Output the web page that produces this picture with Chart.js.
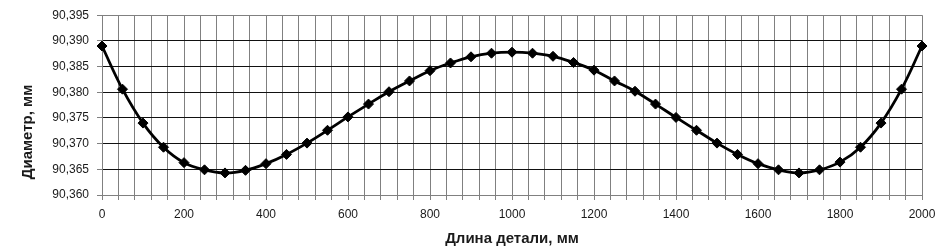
<!DOCTYPE html>
<html>
<head>
<meta charset="utf-8">
<script src="https://cdn.jsdelivr.net/npm/chart.js@4/dist/chart.umd.min.js"></script>
<style>
html,body{margin:0;padding:0;background:#fff;}
#c{display:block;}
</style>
</head>
<body>
<canvas id="c" width="946" height="252"></canvas>
<script>
const lengths = [0,50,100,150,200,250,300,350,400,450,500,550,600,650,700,750,800,850,900,950,1000,1050,1100,1150,1200,1250,1300,1350,1400,1450,1500,1550,1600,1650,1700,1750,1800,1850,1900,1950,2000];
const diameters = [90.3890,90.3806,90.3740,90.3693,90.3663,90.3649,90.3643,90.3648,90.3661,90.3679,90.3701,90.3726,90.3752,90.3777,90.3801,90.3822,90.3842,90.3857,90.3869,90.3876,90.3878,90.3876,90.3870,90.3858,90.3843,90.3822,90.3802,90.3777,90.3751,90.3726,90.3701,90.3679,90.3661,90.3649,90.3643,90.3649,90.3664,90.3693,90.3740,90.3806,90.3890];
const xTitle = 'Длина детали, мм';
const yTitle = 'Диаметр, мм';
const yMin = 90.360, yMax = 90.395, yStep = 0.005;
const xMin = 0, xMax = 2000, xGridStep = 40, xLabelStep = 200;

const FONT = '"Liberation Sans", Arial, sans-serif';

const yTitlePlugin = {
  id: 'yTitlePlugin',
  afterDraw(chart) {
    const ctx = chart.ctx;
    ctx.save();
    ctx.translate(28, 132);
    ctx.rotate(-Math.PI / 2);
    ctx.font = 'bold 15px ' + FONT;
    ctx.fillStyle = '#1a1a1a';
    ctx.textAlign = 'center';
    ctx.textBaseline = 'middle';
    ctx.fillText(yTitle, 0, 0);
    ctx.restore();
  }
};

new Chart(document.getElementById('c'), {
  type: 'line',
  data: {
    datasets: [{
      data: lengths.map((x, i) => ({x: x, y: diameters[i]})),
      borderColor: '#000',
      backgroundColor: '#000',
      borderWidth: 2.8,
      tension: 0.4,
      clip: false,
      pointStyle: 'rectRot',
      pointRadius: 5,
      pointBorderWidth: 1,
      pointBackgroundColor: '#000',
      pointBorderColor: '#000',
      fill: false
    }]
  },
  options: {
    responsive: false,
    animation: false,
    devicePixelRatio: 1,
    layout: {padding: {top: 13, right: 24, left: 0, bottom: 0}},
    plugins: {legend: {display: false}, tooltip: {enabled: false}},
    scales: {
      x: {
        type: 'linear',
        min: xMin, max: xMax,
        afterFit(s) { s.height = 57; },
        border: {color: '#808080', width: 1},
        grid: {color: '#808080', lineWidth: 1, tickLength: 5, tickColor: '#808080'},
        ticks: {
          stepSize: xGridStep,
          autoSkip: false,
          maxRotation: 0,
          padding: 7,
          color: '#1a1a1a',
          font: {family: FONT, size: 12},
          callback: v => (Math.round(v) % xLabelStep === 0 ? String(Math.round(v)) : '')
        },
        title: {
          display: true,
          text: xTitle,
          color: '#1a1a1a',
          font: {family: FONT, size: 15, weight: 'bold'},
          padding: {top: 0, bottom: 4}
        }
      },
      y: {
        min: yMin, max: yMax,
        afterFit(s) { s.width = 102; },
        border: {color: '#808080', width: 1},
        grid: {
          color: ctx => {
            const v = ctx.tick ? ctx.tick.value : 0;
            return (Math.abs(v - yMax) < 1e-6 || Math.abs(v - yMin) < 1e-6) ? '#808080' : '#111';
          },
          lineWidth: 1, tickLength: 5, tickColor: '#808080'
        },
        ticks: {
          stepSize: yStep,
          padding: 8,
          color: '#1a1a1a',
          font: {family: FONT, size: 12},
          callback: v => v.toFixed(3).replace('.', ',')
        }
      }
    }
  },
  plugins: [yTitlePlugin]
});
</script>
</body>
</html>
